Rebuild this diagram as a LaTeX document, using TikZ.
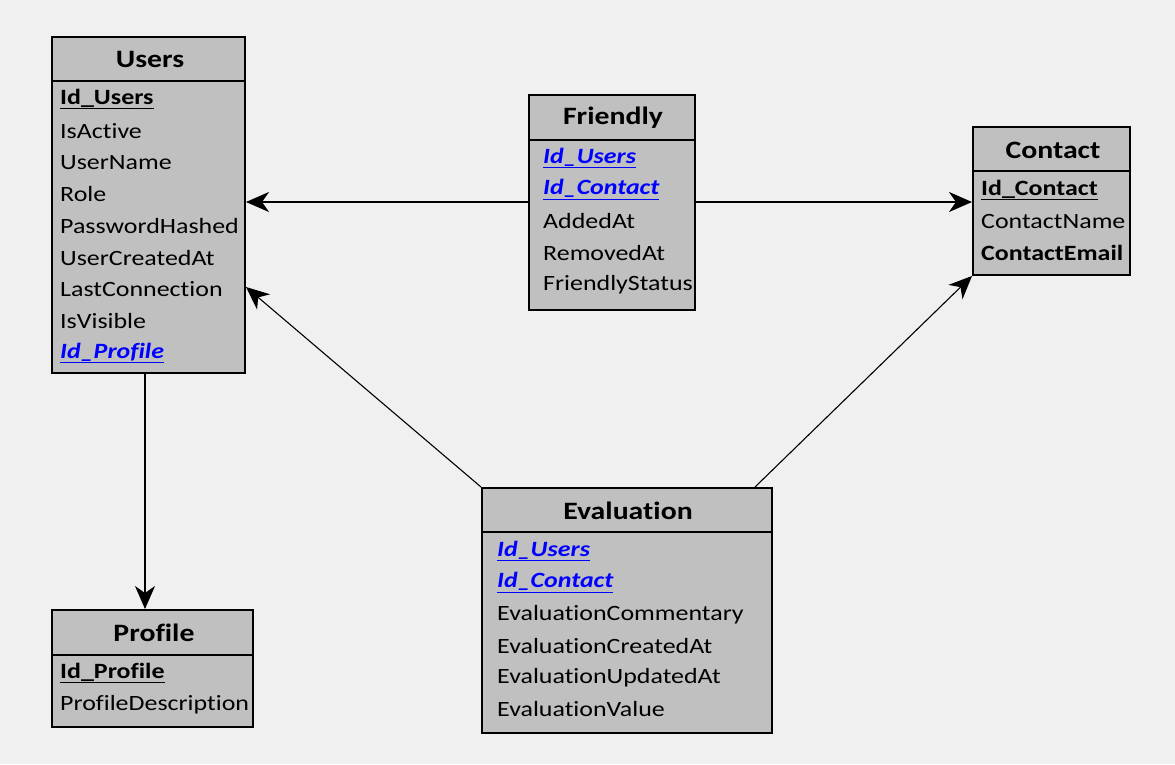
\documentclass[tikz,border=0pt]{standalone}
\usepackage{fontspec}
\setmainfont{Carlito}[FakeStretch=1.19,Ligatures=NoCommon]
\usetikzlibrary{arrows.meta}
\definecolor{bg}{HTML}{F0F0F0}
\definecolor{boxgray}{HTML}{C0C0C0}
\definecolor{fkblue}{HTML}{0000FF}
\newcommand\pkey[1]{\textbf{\underline{#1}}}
\newcommand\fkey[1]{\textcolor{fkblue}{\textbf{\textit{\underline{#1}}}}}
\tikzset{
  tbl/.style={draw=black, line width=2pt, fill=boxgray, inner sep=0pt, anchor=north west},
  ttl/.style={font=\fontsize{25}{30}\selectfont\bfseries, anchor=center, inner sep=0pt},
  fld/.style={font=\fontsize{21.8}{26}\selectfont, anchor=west, inner sep=0pt},
  sep/.style={line width=2pt},
  rel/.style={-{Stealth[length=23pt,width=20pt,inset=7pt]}, line width=2pt},
  relthin/.style={-{Stealth[length=23pt,width=20pt,inset=7pt]}, line width=1.1pt},
}
\begin{document}
\begin{tikzpicture}[x=1pt,y=-1pt]
\fill[bg] (0,0) rectangle (1175,764);
\useasboundingbox (0,0) rectangle (1175,764);

% Users
\node[tbl, minimum width=193pt, minimum height=336pt] (users) at (51,36) {};
\draw[sep] (users.west |- 0,81) -- (users.east |- 0,81);
\node[ttl] (usersT) at (150,59) {Users};
\foreach \t [count=\i from 0] in {\pkey{Id\_Users},IsActive,UserName,Role,PasswordHashed,UserCreatedAt,LastConnection,IsVisible,\fkey{Id\_Profile}}
  \node[fld] (users-f\i) at (60,99+31.75*\i) {\t};

% Friendly
\node[tbl, minimum width=166pt, minimum height=215pt] (friendly) at (528,94) {};
\draw[sep] (friendly.west |- 0,140) -- (friendly.east |- 0,140);
\node[ttl] (friendlyT) at (613,118) {Friendly};
\begin{scope}
\clip (528,94) rectangle (693,309);
\foreach \t [count=\i from 0] in {\fkey{Id\_Users},\fkey{Id\_Contact},AddedAt,RemovedAt,FriendlyStatus}
  \node[fld] (friendly-f\i) at (543,158+31.75*\i) {\t};
\end{scope}

% Contact
\node[tbl, minimum width=157pt, minimum height=148pt] (contact) at (972,126) {};
\draw[sep] (contact.west |- 0,171) -- (contact.east |- 0,171);
\node[ttl] (contactT) at (1053,150) {Contact};
\foreach \t [count=\i from 0] in {\pkey{Id\_Contact},ContactName,\textbf{ContactEmail}}
  \node[fld] (contact-f\i) at (981,190+31.5*\i) {\t};

% Evaluation
\node[tbl, minimum width=290pt, minimum height=245pt] (eval) at (481,487) {};
\draw[sep] (eval.west |- 0,532) -- (eval.east |- 0,532);
\node[ttl] (evalT) at (628,511) {Evaluation};
\foreach \t [count=\i from 0] in {\fkey{Id\_Users},\fkey{Id\_Contact},EvaluationCommentary,EvaluationCreatedAt,EvaluationUpdatedAt,EvaluationValue}
  \node[fld] (eval-f\i) at (497,551+31.6*\i) {\t};

% Profile
\node[tbl, minimum width=201pt, minimum height=117pt] (profile) at (51,609) {};
\draw[sep] (profile.west |- 0,655) -- (profile.east |- 0,655);
\node[ttl] (profileT) at (154,633) {Profile};
\foreach \t [count=\i from 0] in {\pkey{Id\_Profile},ProfileDescription}
  \node[fld] (profile-f\i) at (60,673+31.75*\i) {\t};

% Relations
\coordinate (fu) at (friendly.west |- 0,202);
\coordinate (fc) at (friendly.east |- 0,202);
\draw[rel] (fu) -- (users.east |- fu);
\draw[rel] (fc) -- (contact.west |- fc);
\coordinate (eu) at (users.east |- 0,287);
\coordinate (ec) at (755,487);
\draw[relthin] (eval.north west) -- (eu);
\draw[relthin] (ec) -- (contact.south west);
\coordinate (up) at (145,372);
\draw[relthin] (up) -- (up |- profile.north);
\end{tikzpicture}
\end{document}
